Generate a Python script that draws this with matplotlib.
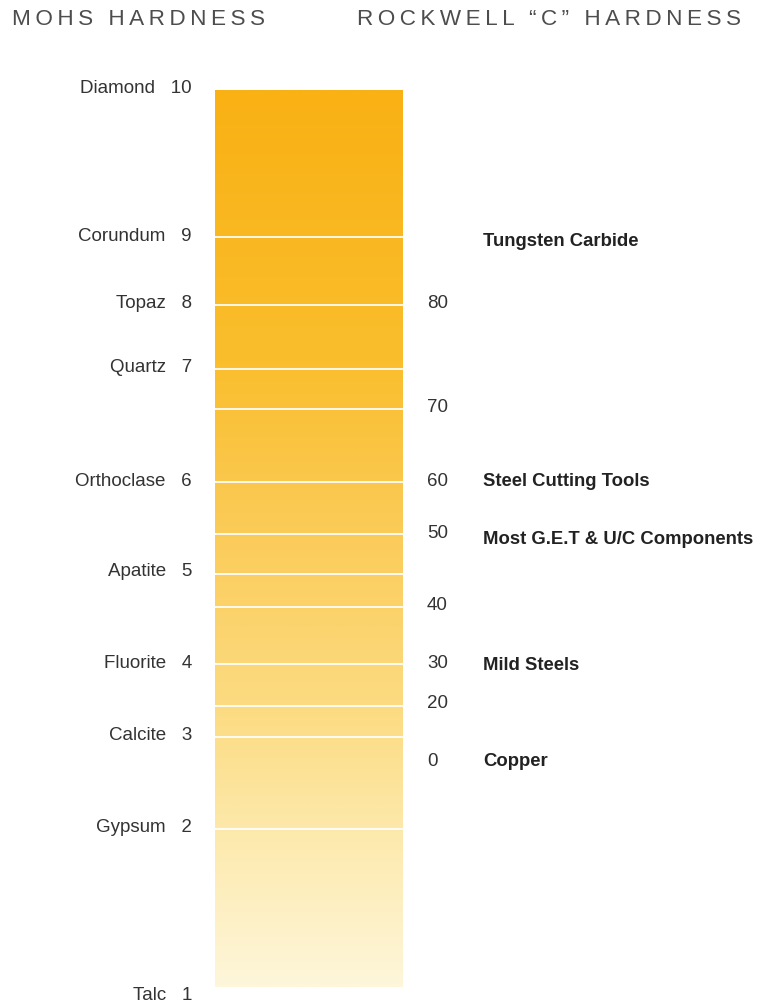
import numpy as np
import matplotlib
matplotlib.use("Agg")
import matplotlib.pyplot as plt
from matplotlib.colors import LinearSegmentedColormap

# Mohs scale minerals and where they sit on the chart (chart units, top = 0)
minerals = ["Diamond", "Corundum", "Topaz", "Quartz", "Orthoclase",
            "Apatite", "Fluorite", "Calcite", "Gypsum", "Talc"]
mohs_values = [10, 9, 8, 7, 6, 5, 4, 3, 2, 1]
mohs_pos = [88, 236, 304, 367, 482, 572, 663, 735, 828, 996]

# Rockwell "C" values and positions
rockwell_values = [80, 70, 60, 50, 40, 30, 20, 0]
rockwell_pos = [304, 407, 481, 533, 605, 664, 704, 762]

# materials
materials = ["Tungsten Carbide", "Steel Cutting Tools",
             "Most G.E.T & U/C Components", "Mild Steels", "Copper"]
material_pos = [241, 482, 539, 665, 762]

# white divider lines across the bar
divider_pos = [237, 305, 369, 409, 482, 534, 574, 607, 664, 706, 737, 829]

bar_top, bar_bottom = 90, 987
bar_left, bar_right = 215, 403

fam = ["Liberation Sans", "DejaVu Sans"]

fig = plt.figure(figsize=(7.76, 10.06), dpi=100)
ax = fig.add_axes([0, 0, 1, 1])
ax.set_xlim(0, 776)
ax.set_ylim(1006, 0)
ax.axis("off")

# gradient bar
stops = [(0.0, (249, 177, 20)), (0.3, (250, 190, 45)), (0.5, (251, 204, 90)),
         (0.7, (252, 220, 132)), (0.85, (253, 235, 178)), (1.0, (254, 246, 218))]
cmap = LinearSegmentedColormap.from_list(
    "amber", [(p, tuple(c / 255 for c in rgb)) for p, rgb in stops])
grad = np.linspace(0, 1, 400).reshape(-1, 1)
ax.imshow(grad, cmap=cmap, aspect="auto",
          extent=(bar_left, bar_right, bar_bottom, bar_top), zorder=1)

ax.hlines(divider_pos, bar_left, bar_right, colors="white", lw=1.4,
          alpha=0.9, zorder=2)

# headers, letter-spaced with thin spaces
def spaced(s):
    words = s.split(" ")
    return " \u2009\u2009".join("\u2009".join(w) for w in words)

ax.text(12, 19, spaced("MOHS HARDNESS"), family=fam, fontsize=16.2,
        color="#4d4d4d", va="center", ha="left")
ax.text(357, 19, spaced("ROCKWELL \u201cC\u201d HARDNESS"), family=fam,
        fontsize=16.2, color="#4d4d4d", va="center", ha="left")

for name, val, y in zip(minerals, mohs_values, mohs_pos):
    ax.text(192, y, f"{name}   {val}", family=fam, fontsize=13.5,
            color="#333333", ha="right", va="center")

for val, y in zip(rockwell_values, rockwell_pos):
    ax.text(427, y, str(val), family=fam, fontsize=13.5,
            color="#333333", ha="left", va="center")

for m, y in zip(materials, material_pos):
    ax.text(483, y, m, family=fam, fontsize=13.3, fontweight="bold",
            color="#222222", ha="left", va="center")

fig.savefig("out.png", dpi=100, facecolor="white")
